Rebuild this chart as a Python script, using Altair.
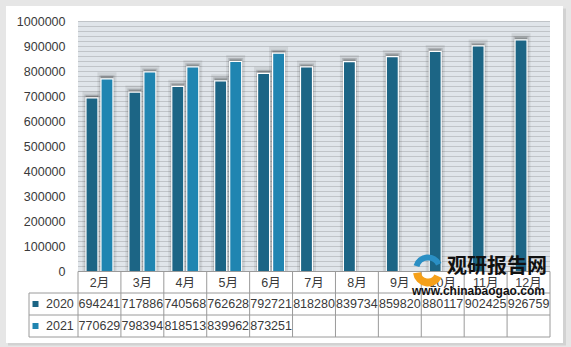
import altair as alt
import pandas as pd

months = ["2月", "3月", "4月", "5月", "6月", "7月", "8月", "9月", "10月", "11月", "12月"]
years = ["2020", "2021"]
v2020 = [694241, 717886, 740568, 762628, 792721, 818280, 839734, 859820, 880117, 902425, 926759]
v2021 = [770629, 798394, 818513, 839962, 873251]
y_ticks = [0, 100000, 200000, 300000, 400000, 500000, 600000, 700000, 800000, 900000, 1000000]
grid_vals = list(range(20000, 1000001, 20000))
colors = ["#1c6585", "#2085b1"]

rows = []
for m, v in zip(months, v2020):
    rows.append({"month": m, "year": "2020", "value": v})
for m, v in zip(months, v2021):
    rows.append({"month": m, "year": "2021", "value": v})
df = pd.DataFrame(rows)
df["label"] = df["value"].astype(str)

W, H = 472, 250
FONT = "Liberation Sans, Noto Sans CJK SC, sans-serif"
TXT = "#3a3a3a"
LINE = "#9a9a9a"

xenc = alt.X("month:N", sort=months, scale=alt.Scale(paddingInner=0, paddingOuter=0), axis=None)
yscale = alt.Scale(domain=[0, 1000000], nice=False, zero=True)
yaxis = alt.Axis(values=y_ticks, format="d", ticks=False, domain=False, grid=False,
                 labelFontSize=12.5, labelColor=TXT, labelFont=FONT, labelPadding=13,
                 labelOverlap=False, title=None, zindex=1)
color = alt.Color("year:N", scale=alt.Scale(domain=years, range=colors), legend=None)
xoff = alt.XOffset("year:N", sort=years, scale=alt.Scale(paddingInner=0.2, paddingOuter=0.53))

dummy = pd.DataFrame({"a": [0]})

card_shadow = alt.Chart(dummy).mark_rect(fill="#d2d2d2").encode(
    x=alt.value(-70), x2=alt.value(488), y=alt.value(-13), y2=alt.value(324))
card = alt.Chart(dummy).mark_rect(fill="white").encode(
    x=alt.value(-72), x2=alt.value(485), y=alt.value(-15.5), y2=alt.value(321.5))
plot_bg = alt.Chart(dummy).mark_rect(fill="#e0e5ea").encode(
    x=alt.value(0), x2=alt.value(W), y=alt.value(0), y2=alt.value(H))

grid = alt.Chart(pd.DataFrame({"value": grid_vals})).mark_rule(color="#c0c4c8", strokeWidth=1).encode(
    y=alt.Y("value:Q", scale=yscale, axis=yaxis),
    x=alt.value(0), x2=alt.value(W))

shadow_outer = alt.Chart(df).mark_bar(fill="#000000", fillOpacity=0.08, stroke="#000000", strokeOpacity=0.08,
                                      strokeWidth=7, yOffset=-3).encode(
    x=xenc, xOffset=xoff, y=alt.Y("value:Q", scale=yscale, axis=yaxis))
shadow_inner = alt.Chart(df).mark_bar(fill="#000000", fillOpacity=0.15, stroke="#000000", strokeOpacity=0.12,
                                      strokeWidth=3, yOffset=-2).encode(
    x=xenc, xOffset=xoff, y=alt.Y("value:Q", scale=yscale, axis=yaxis))

bars = alt.Chart(df).mark_bar(stroke="white", strokeWidth=1.2).encode(
    x=xenc, xOffset=xoff,
    y=alt.Y("value:Q", scale=yscale, axis=yaxis),
    color=color)

# table lines
hlines = pd.DataFrame({"py": [H, 271.5, 293.5, 315.5], "px1": [0, -49, -49, -49], "px2": [W, W, W, W]})
hrule = alt.Chart(hlines).mark_rule(color=LINE, strokeWidth=1).encode(
    y=alt.Y("py:Q", scale=None), x=alt.X("px1:Q", scale=None), x2="px2:Q")
vrule = alt.Chart(pd.DataFrame({"month": months})).mark_rule(color=LINE, strokeWidth=1).encode(
    x=alt.X("month:N", sort=months, bandPosition=0, axis=None), y=alt.value(H), y2=alt.value(315.5))
vedges = pd.DataFrame({"px": [W, -49], "py1": [H, 271.5], "py2": [315.5, 315.5]})
vrule2 = alt.Chart(vedges).mark_rule(color=LINE, strokeWidth=1).encode(
    x=alt.X("px:Q", scale=None), y=alt.Y("py1:Q", scale=None), y2="py2:Q")

header = alt.Chart(pd.DataFrame({"month": months})).mark_text(
    fontSize=12.5, font=FONT, color=TXT, baseline="middle").encode(
    x=alt.X("month:N", sort=months, axis=None), y=alt.value(261), text="month:N")

row_y = {"2020": 282.5, "2021": 304.5}
layers = [card_shadow, card, plot_bg, grid, shadow_outer, shadow_inner, bars, hrule, vrule, vrule2, header]
for yr in years:
    sub = df[df["year"] == yr]
    layers.append(alt.Chart(sub).mark_text(fontSize=12.5, font=FONT, color=TXT, baseline="middle").encode(
        x=alt.X("month:N", sort=months, axis=None), y=alt.value(row_y[yr]), text="label:N"))
    leg = pd.DataFrame({"year": [yr]})
    layers.append(alt.Chart(leg).mark_square(size=36, opacity=1).encode(
        x=alt.value(-42.5), y=alt.value(row_y[yr]), color=color))
    layers.append(alt.Chart(leg).mark_text(fontSize=12.5, font=FONT, color=TXT, baseline="middle", align="left").encode(
        x=alt.value(-32), y=alt.value(row_y[yr]), text="year:N"))

# watermark
layers.append(alt.Chart(dummy).mark_arc(radius=15, radius2=9, theta=5.0, theta2=7.4, color="#2a8fc4").encode(
    x=alt.value(350), y=alt.value(248)))
layers.append(alt.Chart(dummy).mark_arc(radius=15, radius2=7, theta=2.0, theta2=4.6, color="#f5a01a").encode(
    x=alt.value(350), y=alt.value(250)))
layers.append(alt.Chart(pd.DataFrame({"t": ["观研报告网"]})).mark_text(
    fontSize=20, font="Noto Sans CJK SC", fontWeight="bold", color="#111111", align="left", baseline="middle").encode(
    x=alt.value(369), y=alt.value(245.5), text="t:N"))
layers.append(alt.Chart(pd.DataFrame({"t": ["www.chinabaogao.com"]})).mark_text(
    fontSize=12, font="Liberation Sans", fontWeight="bold", color="#111111", align="left", baseline="middle").encode(
    x=alt.value(334), y=alt.value(269.5), text="t:N"))

chart = alt.layer(*layers).properties(
    width=W, height=H,
    autosize=alt.AutoSizeParams(type="none"),
    padding={"left": 78, "top": 21.5, "right": 21, "bottom": 75.5},
    background="#e6e6e6",
).configure_view(stroke=None, fill=None)

chart.save("out.html", embed_options={"renderer": "svg", "actions": False})
